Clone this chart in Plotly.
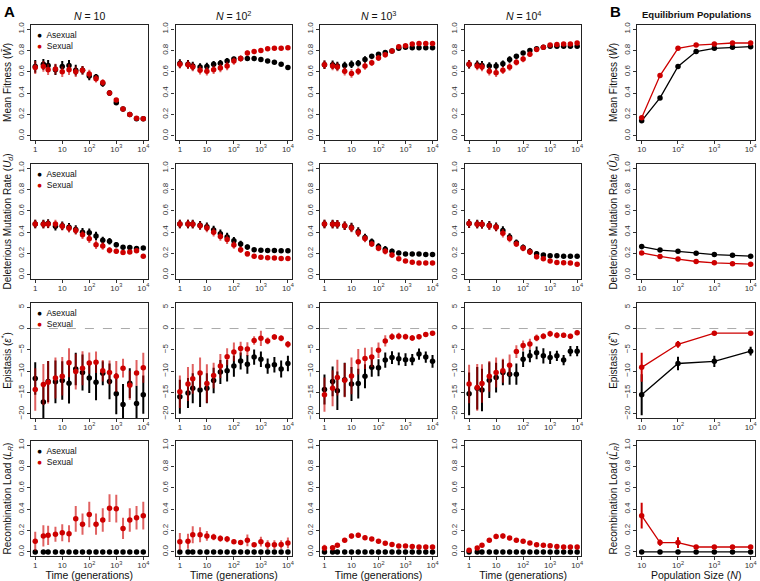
import plotly.graph_objects as go

# ---------------- data ----------------
t = [1, 2, 3, 5.6, 10, 17.8, 31.6, 56.2, 100, 178, 316, 562, 1000, 1778, 3162, 5623, 10000]
N_eq = [10, 32, 100, 316, 1000, 3162, 10000]
N_eps = [10, 100, 1000, 10000]
col_titles = ["<i>N</i> = 10", "<i>N</i> = 10<sup>2</sup>", "<i>N</i> = 10<sup>3</sup>", "<i>N</i> = 10<sup>4</sup>"]
x_tickvals = [1, 10, 100, 1000, 10000]
x_ticktext = ["1", "10", "10<sup>2</sup>", "10<sup>3</sup>", "10<sup>4</sup>"]
series_names = ["Asexual", "Sexual"]

# Mean fitness, columns N=10, 1e2, 1e3, 1e4
fit_asex = [
    [0.65, 0.67, 0.66, 0.62, 0.65, 0.66, 0.615, 0.615, 0.56, 0.55, 0.49, 0.40, 0.31, 0.25, 0.20, 0.16, 0.16],
    [0.677, 0.67, 0.655, 0.645, 0.65, 0.67, 0.68, 0.70, 0.72, 0.725, 0.725, 0.725, 0.715, 0.70, 0.69, 0.67, 0.64],
    [0.665, 0.665, 0.655, 0.66, 0.67, 0.68, 0.715, 0.745, 0.765, 0.78, 0.795, 0.82, 0.83, 0.825, 0.825, 0.825, 0.825],
    [0.67, 0.665, 0.66, 0.655, 0.655, 0.675, 0.715, 0.745, 0.775, 0.80, 0.815, 0.83, 0.84, 0.84, 0.84, 0.84, 0.84],
]
fit_sex = [
    [0.64, 0.65, 0.62, 0.625, 0.60, 0.62, 0.60, 0.615, 0.58, 0.535, 0.50, 0.40, 0.335, 0.25, 0.20, 0.165, 0.16],
    [0.67, 0.665, 0.645, 0.615, 0.605, 0.62, 0.635, 0.655, 0.70, 0.725, 0.775, 0.79, 0.80, 0.815, 0.82, 0.82, 0.825],
    [0.665, 0.655, 0.645, 0.605, 0.585, 0.605, 0.655, 0.685, 0.73, 0.76, 0.795, 0.835, 0.845, 0.86, 0.865, 0.865, 0.865],
    [0.67, 0.655, 0.645, 0.605, 0.59, 0.615, 0.645, 0.69, 0.72, 0.765, 0.81, 0.83, 0.85, 0.855, 0.86, 0.86, 0.87],
]
fit_asex_err = [
    [0.06, 0.05, 0.05, 0.05, 0.05, 0.05, 0.05, 0.04, 0.04, 0.03, 0.03, 0.025, 0.02, 0.02, 0.015, 0.01, 0.01],
    [0.04, 0.04, 0.04, 0.035, 0.035, 0.03, 0.03, 0.03, 0.02, 0.015, 0.01, 0.01, 0.01, 0.01, 0.01, 0.01, 0.01],
    [0.04, 0.04, 0.04, 0.035, 0.035, 0.03, 0.03, 0.02, 0.015, 0.01, 0.01, 0.01, 0.01, 0.01, 0.01, 0.01, 0.01],
    [0.04, 0.04, 0.04, 0.035, 0.035, 0.03, 0.03, 0.02, 0.015, 0.01, 0.01, 0.01, 0.01, 0.01, 0.01, 0.01, 0.01],
]
fit_sex_err = [
    [0.06, 0.05, 0.05, 0.05, 0.05, 0.05, 0.05, 0.04, 0.04, 0.035, 0.03, 0.025, 0.02, 0.02, 0.015, 0.01, 0.01],
    [0.04, 0.04, 0.04, 0.04, 0.04, 0.04, 0.04, 0.04, 0.035, 0.03, 0.025, 0.02, 0.015, 0.01, 0.01, 0.01, 0.01],
    [0.04, 0.04, 0.04, 0.04, 0.04, 0.035, 0.035, 0.03, 0.03, 0.025, 0.02, 0.02, 0.015, 0.01, 0.01, 0.01, 0.01],
    [0.04, 0.04, 0.04, 0.04, 0.04, 0.035, 0.035, 0.03, 0.03, 0.025, 0.02, 0.02, 0.015, 0.01, 0.01, 0.01, 0.01],
]

# Deleterious mutation rate
ud_asex = [
    [0.477, 0.477, 0.48, 0.455, 0.46, 0.446, 0.425, 0.40, 0.394, 0.363, 0.323, 0.314, 0.283, 0.258, 0.255, 0.246, 0.252],
    [0.477, 0.477, 0.477, 0.465, 0.45, 0.42, 0.385, 0.355, 0.32, 0.29, 0.26, 0.236, 0.23, 0.228, 0.228, 0.225, 0.225],
    [0.477, 0.477, 0.474, 0.46, 0.447, 0.405, 0.35, 0.31, 0.265, 0.24, 0.22, 0.205, 0.195, 0.195, 0.195, 0.19, 0.19],
    [0.48, 0.477, 0.474, 0.465, 0.45, 0.415, 0.355, 0.30, 0.255, 0.22, 0.197, 0.185, 0.178, 0.178, 0.175, 0.175, 0.175],
]
ud_sex = [
    [0.477, 0.474, 0.477, 0.477, 0.455, 0.437, 0.415, 0.375, 0.338, 0.283, 0.27, 0.23, 0.22, 0.21, 0.215, 0.225, 0.175],
    [0.477, 0.477, 0.474, 0.46, 0.44, 0.40, 0.36, 0.33, 0.28, 0.235, 0.197, 0.175, 0.165, 0.16, 0.158, 0.153, 0.153],
    [0.477, 0.474, 0.474, 0.46, 0.44, 0.395, 0.34, 0.29, 0.25, 0.22, 0.185, 0.15, 0.13, 0.117, 0.11, 0.11, 0.11],
    [0.48, 0.475, 0.473, 0.46, 0.445, 0.39, 0.34, 0.29, 0.25, 0.215, 0.17, 0.15, 0.13, 0.115, 0.112, 0.11, 0.10],
]
ud_err = [
    [0.04, 0.04, 0.04, 0.04, 0.04, 0.04, 0.04, 0.04, 0.04, 0.04, 0.035, 0.03, 0.025, 0.02, 0.015, 0.01, 0.01],
    [0.04, 0.04, 0.04, 0.04, 0.04, 0.04, 0.04, 0.04, 0.035, 0.03, 0.025, 0.015, 0.01, 0.01, 0.01, 0.01, 0.01],
    [0.04, 0.04, 0.04, 0.04, 0.04, 0.04, 0.035, 0.03, 0.03, 0.03, 0.025, 0.02, 0.01, 0.01, 0.01, 0.01, 0.01],
    [0.04, 0.04, 0.04, 0.04, 0.04, 0.04, 0.035, 0.03, 0.03, 0.03, 0.025, 0.02, 0.01, 0.01, 0.01, 0.01, 0.01],
]

# Epistasis
eps_asex = [
    [-11.7, -17.2, -12.4, -12.5, -12.2, -12.8, -9.5, -10.3, -11.6, -12.6, -10.5, -12.4, -15.3, -17.8, -12.8, -17.6, -15.5],
    [-16.0, -15.1, -14.0, -14.4, -14.0, -12.2, -10.2, -9.9, -8.8, -7.6, -8.4, -6.7, -7.2, -8.8, -8.5, -9.5, -8.2],
    [-14.3, -12.4, -14.6, -12.0, -13.0, -12.9, -11.2, -9.1, -9.2, -7.4, -6.8, -7.1, -7.3, -7.3, -6.0, -6.7, -7.7],
    [-15.3, -14.0, -14.4, -12.1, -11.5, -10.3, -10.7, -10.7, -7.2, -6.4, -5.7, -6.4, -6.8, -6.4, -7.4, -5.3, -5.3],
]
eps_sex = [
    [-14.3, -13.1, -12.6, -11.6, -11.2, -8.0, -10.1, -9.3, -8.1, -7.9, -9.9, -10.3, -11.2, -9.3, -13.3, -10.4, -9.2],
    [-14.8, -13.0, -11.8, -10.4, -12.9, -11.0, -8.8, -6.6, -5.5, -4.7, -4.8, -2.8, -2.3, -2.9, -2.0, -2.3, -3.7],
    [-15.5, -14.0, -11.5, -12.1, -11.1, -7.8, -7.0, -6.7, -5.1, -2.9, -1.9, -1.8, -1.9, -2.2, -1.9, -1.4, -1.1],
    [-13.0, -13.8, -12.9, -11.2, -10.3, -9.9, -8.6, -5.4, -4.0, -3.6, -2.2, -1.8, -1.2, -1.6, -1.6, -1.8, -1.0],
]
eps_asex_err = [
    [3.8, 4.5, 4.8, 5.0, 4.5, 4.8, 3.8, 4.2, 3.5, 4.2, 2.8, 4.2, 4.8, 4.8, 3.5, 4.2, 4.5],
    [4.0, 3.5, 3.5, 4.0, 3.5, 3.0, 2.8, 2.5, 2.5, 2.0, 2.2, 1.8, 1.8, 1.8, 1.8, 2.0, 1.8],
    [3.5, 3.5, 4.5, 4.0, 4.0, 3.5, 2.8, 2.2, 2.0, 1.8, 1.5, 1.5, 1.5, 1.3, 1.3, 1.3, 1.5],
    [5.0, 5.0, 5.0, 4.2, 3.5, 3.0, 2.5, 2.5, 1.8, 1.5, 1.5, 1.8, 1.5, 1.2, 1.2, 1.2, 1.2],
]
eps_sex_err = [
    [5.0, 4.8, 5.0, 4.8, 4.5, 3.4, 4.2, 4.0, 2.5, 2.5, 2.5, 2.8, 3.6, 2.2, 3.4, 3.0, 3.5],
    [3.8, 4.0, 3.5, 3.6, 4.5, 3.0, 2.8, 2.0, 2.2, 1.6, 1.6, 1.0, 1.8, 0.8, 0.7, 0.7, 0.8],
    [4.0, 4.2, 4.2, 4.0, 4.3, 3.0, 2.5, 2.3, 1.8, 1.3, 0.8, 0.8, 0.7, 0.7, 0.6, 0.5, 0.5],
    [4.5, 5.5, 4.5, 3.6, 3.5, 2.8, 2.5, 1.5, 1.2, 1.2, 0.8, 0.7, 0.7, 0.7, 0.6, 0.6, 0.6],
]

# Recombination load
lr_asex = [
    [0, 0, 0, 0, 0, 0, 0, 0, 0, 0, 0, 0, 0, 0, 0, 0, 0],
    [0, 0, 0, 0, 0, 0, 0, 0, 0, 0, 0, 0, 0, 0, 0, 0, 0],
    [0, 0, 0, 0, 0, 0, 0, 0, 0, 0, 0, 0, 0, 0, 0, 0, 0],
    [0, 0, 0, 0, 0, 0, 0, 0, 0, 0, 0, 0, 0, 0, 0, 0, 0],
]
lr_sex = [
    [0.10, 0.15, 0.155, 0.165, 0.18, 0.17, 0.31, 0.26, 0.35, 0.26, 0.30, 0.41, 0.405, 0.22, 0.30, 0.32, 0.34],
    [0.096, 0.10, 0.16, 0.16, 0.15, 0.14, 0.125, 0.12, 0.096, 0.087, 0.108, 0.068, 0.096, 0.068, 0.068, 0.07, 0.084],
    [0.037, 0.04, 0.062, 0.11, 0.148, 0.155, 0.133, 0.12, 0.10, 0.08, 0.07, 0.056, 0.056, 0.05, 0.046, 0.046, 0.046],
    [0.015, 0.037, 0.062, 0.108, 0.145, 0.148, 0.13, 0.11, 0.10, 0.084, 0.068, 0.062, 0.058, 0.05, 0.046, 0.046, 0.046],
]
lr_sex_err = [
    [0.09, 0.10, 0.09, 0.07, 0.08, 0.08, 0.12, 0.10, 0.12, 0.10, 0.11, 0.13, 0.13, 0.10, 0.11, 0.11, 0.13],
    [0.08, 0.07, 0.08, 0.07, 0.045, 0.03, 0.03, 0.03, 0.02, 0.02, 0.055, 0.01, 0.045, 0.04, 0.04, 0.04, 0.05],
    [0.03, 0.015, 0.01, 0.02, 0.025, 0.025, 0.02, 0.015, 0.01, 0.01, 0.01, 0.01, 0.01, 0.01, 0.01, 0.01, 0.01],
    [0.012, 0.015, 0.01, 0.02, 0.025, 0.025, 0.02, 0.015, 0.01, 0.01, 0.01, 0.01, 0.01, 0.01, 0.01, 0.01, 0.01],
]

# Equilibrium populations (panel B)
eq_fit_asex = [0.14, 0.355, 0.65, 0.79, 0.82, 0.83, 0.835]
eq_fit_sex = [0.17, 0.565, 0.82, 0.85, 0.86, 0.87, 0.87]
eq_fit_asex_err = [0.012, 0.012, 0.01, 0.006, 0.005, 0.005, 0.005]
eq_fit_sex_err = [0.015, 0.018, 0.01, 0.006, 0.005, 0.005, 0.005]
eq_ud_asex = [0.265, 0.232, 0.22, 0.203, 0.19, 0.183, 0.175]
eq_ud_sex = [0.205, 0.172, 0.148, 0.125, 0.112, 0.104, 0.10]
eq_ud_asex_err = [0.025, 0.008, 0.006, 0.005, 0.004, 0.004, 0.004]
eq_ud_sex_err = [0.01, 0.006, 0.005, 0.004, 0.004, 0.003, 0.003]
eq_eps_asex = [-15.5, -8.2, -7.7, -5.3]
eq_eps_sex = [-9.1, -3.7, -1.1, -1.1]
eq_eps_asex_err = [4.8, 1.6, 1.3, 1.0]
eq_eps_sex_err = [3.4, 0.8, 0.35, 0.35]
eq_lr_asex = [0, 0, 0, 0, 0, 0, 0]
eq_lr_sex = [0.34, 0.087, 0.087, 0.046, 0.046, 0.046, 0.046]
eq_lr_sex_err = [0.12, 0.03, 0.05, 0.005, 0.005, 0.005, 0.005]

# ---------------- styling / layout ----------------
W, H = 760, 581
BLACK = "#000000"
RED = "#CD0000"
RED_ERR = "rgba(205,0,0,0.62)"
FONT = "Liberation Sans, Arial, Helvetica, sans-serif"

col_px = [(31, 148), (176, 293), (321, 438), (466, 583), (639, 757)]
row_px = [(22, 138), (162, 278), (302, 418), (441, 557)]

y_titles_A = [
    "Mean Fitness (<i>W\u0304</i>)",
    "Deleterious Mutation Rate (<i>U<sub>d</sub></i>)",
    "Epistasis (<i>\u03b5</i><sup>*</sup>)",
    "Recombination Load (<i>L<sub>R</sub></i>)",
]
y_titles_B = [
    "Mean Fitness (<i>\u0174</i>)",
    "Deleterious Mutation Rate (<i>\u00db<sub>d</sub></i>)",
    "Epistasis (<i>\u03b5\u0302</i><sup>*</sup>)",
    "Recombination Load (<i>L\u0302<sub>R</sub></i>)",
]

fig = go.Figure()
layout = dict(
    width=W, height=H, margin=dict(l=0, r=0, t=0, b=0),
    paper_bgcolor="white", plot_bgcolor="white",
    font=dict(family=FONT, size=9, color="#111"),
    showlegend=False,
)


def ax_idx(r, c):
    return r * 5 + c + 1


def add_pts(r, c, x, y, err, color, ecolor, name, mode="markers", lw=0):
    k = ax_idx(r, c)
    tr = go.Scatter(
        x=x, y=y, mode=mode, name=name,
        xaxis="x" if k == 1 else f"x{k}", yaxis="y" if k == 1 else f"y{k}",
        marker=dict(color=color, size=5.5, line=dict(width=0)),
        line=dict(color=color, width=lw) if lw else None,
        error_y=dict(type="data", array=err, visible=True, color=ecolor,
                     thickness=2, width=0) if err is not None else None,
        hoverinfo="x+y",
    )
    fig.add_trace(tr)


rowsA = [
    (fit_asex, fit_asex_err, fit_sex, fit_sex_err),
    (ud_asex, ud_err, ud_sex, ud_err),
    (eps_asex, eps_asex_err, eps_sex, eps_sex_err),
    (lr_asex, None, lr_sex, lr_sex_err),
]

for r, (a, ae, s, se) in enumerate(rowsA):
    for c in range(4):
        add_pts(r, c, t, a[c], ae[c] if ae is not None else None, BLACK, BLACK, series_names[0])
        add_pts(r, c, t, s[c], se[c], RED, RED_ERR, series_names[1])

# panel B
add_pts(0, 4, N_eq, eq_fit_asex, eq_fit_asex_err, BLACK, BLACK, series_names[0], mode="lines+markers", lw=1.3)
add_pts(0, 4, N_eq, eq_fit_sex, eq_fit_sex_err, RED, RED, series_names[1], mode="lines+markers", lw=1.3)
add_pts(1, 4, N_eq, eq_ud_asex, eq_ud_asex_err, BLACK, BLACK, series_names[0], mode="lines+markers", lw=1.3)
add_pts(1, 4, N_eq, eq_ud_sex, eq_ud_sex_err, RED, RED, series_names[1], mode="lines+markers", lw=1.3)
add_pts(2, 4, N_eps, eq_eps_asex, eq_eps_asex_err, BLACK, BLACK, series_names[0], mode="lines+markers", lw=1.3)
add_pts(2, 4, N_eps, eq_eps_sex, eq_eps_sex_err, RED, RED, series_names[1], mode="lines+markers", lw=1.3)
add_pts(3, 4, N_eq, eq_lr_asex, None, BLACK, BLACK, series_names[0], mode="lines+markers", lw=1.3)
add_pts(3, 4, N_eq, eq_lr_sex, eq_lr_sex_err, RED, RED, series_names[1], mode="lines+markers", lw=1.3)

shapes = []
for r in range(4):
    for c in range(5):
        k = ax_idx(r, c)
        xn = "xaxis" if k == 1 else f"xaxis{k}"
        yn = "yaxis" if k == 1 else f"yaxis{k}"
        x0, x1 = col_px[c]
        y0, y1 = row_px[r]
        isB = c == 4
        xa = dict(
            domain=[x0 / W, x1 / W], anchor="y" if k == 1 else f"y{k}",
            type="log", range=[0.88, 4.12] if isB else [-0.16, 4.16],
            tickvals=x_tickvals[1:] if isB else x_tickvals,
            ticktext=x_ticktext[1:] if isB else x_ticktext,
            ticks="outside", ticklen=3, tickwidth=1, tickcolor="#333",
            tickfont=dict(size=8, color="#333"), ticklabelstandoff=-2,
            showline=True, linecolor="#222", linewidth=1.2, mirror=True,
            showgrid=False, zeroline=False,
        )
        if r == 3:
            xa["title"] = dict(
                text="Population Size (<i>N</i>)" if isB else "Time (generations)",
                font=dict(size=10.5, color="#111"), standoff=4)
        if r == 2:
            yrange, ytv, yfmt = [-21, 6], [-20, -15, -10, -5, 0, 5], "d"
        else:
            yrange, ytv, yfmt = [-0.04, 1.04], [0, 0.2, 0.4, 0.6, 0.8, 1.0], ".1f"
        ya = dict(
            domain=[1 - y1 / H, 1 - y0 / H], anchor="x" if k == 1 else f"x{k}",
            range=yrange, tickvals=ytv, tickformat=yfmt,
            ticks="outside", ticklen=3, tickwidth=1, tickcolor="#333",
            tickfont=dict(size=8, color="#333"), tickangle=-90,
            showline=True, linecolor="#222", linewidth=1.2, mirror=True,
            showgrid=False, zeroline=False,
        )
        if c == 0:
            ya["title"] = dict(text=y_titles_A[r], font=dict(size=10, color="#111"), standoff=3)
        if isB:
            ya["title"] = dict(text=y_titles_B[r], font=dict(size=10, color="#111"), standoff=3)
        layout[xn] = xa
        layout[yn] = ya
        if r == 2:
            shapes.append(dict(type="line", xref=f"x{k} domain", x0=0, x1=1,
                               yref=f"y{k}", y0=0, y1=0,
                               line=dict(color="#aaaaaa", width=1, dash="dash"), layer="below"))

layout["shapes"] = shapes

ann = []
# in-panel legends (column N = 10)
legend_text = (f"<span style='color:{BLACK}'>\u25cf</span>  {series_names[0]}<br>"
               f"<span style='color:{RED}'>\u25cf</span>  {series_names[1]}")
for r in range(4):
    ann.append(dict(text=legend_text, x=(col_px[0][0] + 4) / W, y=1 - (row_px[r][0] + 3) / H,
                    xref="paper", yref="paper", showarrow=False, align="left",
                    xanchor="left", yanchor="top", font=dict(size=8.5, color="#111")))
for c in range(4):
    ann.append(dict(text=col_titles[c], x=(col_px[c][0] + col_px[c][1]) / 2 / W, y=1 - 13 / H,
                    xref="paper", yref="paper", showarrow=False, font=dict(size=10.5, color="#111"),
                    xanchor="center", yanchor="middle"))
ann.append(dict(text="<b>Equilibrium Populations</b>", x=(col_px[4][0] + col_px[4][1]) / 2 / W, y=1 - 12 / H,
                xref="paper", yref="paper", showarrow=False, font=dict(size=9.5, color="#111"),
                xanchor="center", yanchor="middle"))
ann.append(dict(text="<b>A</b>", x=2 / W, y=1 - 9 / H, xref="paper", yref="paper", showarrow=False,
                font=dict(size=15, color="#000"), xanchor="left", yanchor="middle"))
ann.append(dict(text="<b>B</b>", x=610 / W, y=1 - 9 / H, xref="paper", yref="paper", showarrow=False,
                font=dict(size=15, color="#000"), xanchor="left", yanchor="middle"))
layout["annotations"] = ann

fig.update_layout(**layout)
fig.write_html("out.html", config={"displayModeBar": False},
               post_script="document.body.style.margin='0';document.body.style.overflow='hidden';")
